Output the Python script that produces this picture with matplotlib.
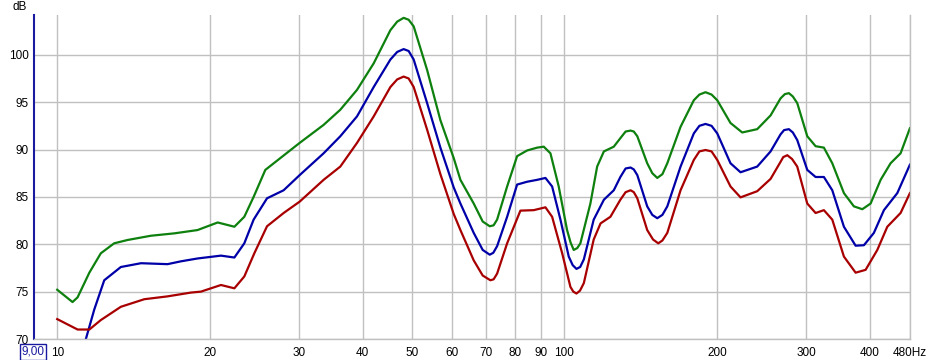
import matplotlib
matplotlib.use("Agg")
import matplotlib.pyplot as plt
from matplotlib.ticker import FixedLocator, NullLocator

plt.rcParams['font.family'] = ['Liberation Sans', 'DejaVu Sans']

freq_green = [10.0, 10.72, 10.97, 11.57, 12.19, 12.95, 13.76, 15.30, 17.01, 18.91, 20.72, 22.35, 23.38,
              24.39, 25.72, 27.54, 30.06, 33.51, 36.15, 39.00, 42.07, 45.38, 46.8, 48.19, 49.3, 50.44, 53.61, 56.94,
              60.49, 62.36, 66.24, 69.0, 71.24, 72.5, 73.66, 77.09, 80.66, 84.41, 88.34, 91.04, 93.84, 97.43, 101.2,
              102.8, 104.3, 106.0, 107.5, 112.5, 116.0, 119.6, 125.1, 128.9, 132.0, 135.0, 137.0, 139.2, 145.6,
              149.0, 152.4, 156.0, 159.5, 169.4,
              179.9, 184.5, 189.7, 195.0, 200.1, 212.5, 224.1, 239.9, 254.9, 266.7, 272.0, 277.0, 282.0, 287.7,
              301.1, 312.7, 324.7,
              337.3, 355.6, 372.1, 386.6, 401.4, 420.1, 439.5, 459.9, 479.8]
db_green = [75.2, 73.9, 74.4, 77.0, 79.05, 80.1, 80.45, 80.9, 81.15, 81.5, 82.3, 81.85, 82.9,
            85.0, 87.85, 89.1, 90.7, 92.6, 94.2, 96.3, 99.1, 102.6, 103.5, 103.9, 103.7, 103.0, 98.4, 93.1,
            89.1, 86.8, 84.3, 82.4, 81.9, 82.0, 82.6, 86.1, 89.3, 89.9, 90.2, 90.3, 89.6, 86.1, 81.5,
            80.2, 79.4, 79.6, 80.1, 84.3, 88.2, 89.8, 90.3, 91.2, 91.9, 92.0, 91.9, 91.4, 88.55,
            87.5, 87.0, 87.4, 88.55, 92.4,
            95.2, 95.8, 96.05, 95.8, 95.2, 92.8, 91.8, 92.15, 93.6, 95.4, 95.85, 95.95, 95.6, 94.9,
            91.4, 90.35, 90.2,
            88.55, 85.4, 84.0, 83.7, 84.3, 86.8, 88.55, 89.6, 92.25]

freq_blue = [10.0, 10.7, 11.39, 11.83, 12.38, 13.35, 14.63, 16.50, 17.54, 18.91, 21.03, 22.35, 23.38,
             24.39, 25.92, 27.95, 30.06, 33.51, 36.15, 39.00, 42.07, 45.38, 46.8, 48.19, 49.3, 50.44, 53.61, 56.94,
             60.49, 62.36, 66.24, 69.0, 71.24, 72.4, 73.66, 77.09, 80.66, 84.41, 88.34, 91.74, 94.56, 98.20, 101.97,
             103.8, 105.6, 107.4, 109.2, 114.2, 119.6, 125.1, 128.9, 132.0, 135.0, 137.0, 139.2, 145.6,
             149.0, 152.4, 156.0, 159.5, 169.4, 179.9,
             184.5, 189.7, 195.0, 200.1, 212.5, 222.4, 239.9, 254.9, 266.7, 271.0, 277.0, 282.0, 287.7,
             301.1, 312.7, 324.7, 337.3,
             355.6, 375.0, 389.4, 407.4, 426.4, 453.1, 479.8]
db_blue = [62.0, 66.0, 70.0, 73.1, 76.2, 77.6, 78.0, 77.9, 78.2, 78.5, 78.8, 78.6, 80.1,
           82.6, 84.85, 85.7, 87.3, 89.6, 91.4, 93.5, 96.6, 99.5, 100.3, 100.6, 100.4, 99.5, 94.9, 90.2,
           86.0, 84.3, 81.2, 79.4, 78.9, 79.1, 79.8, 82.9, 86.3, 86.6, 86.8, 87.0, 86.1, 82.6, 78.7,
           77.8, 77.4, 77.6, 78.4, 82.6, 84.7, 85.7, 87.1, 88.0, 88.1, 87.9, 87.3, 84.0,
           83.1, 82.75, 83.1, 84.0, 88.2, 91.7,
           92.5, 92.7, 92.5, 91.7, 88.55, 87.6, 88.2, 89.8, 91.6, 92.05, 92.15, 91.8, 91.0,
           87.85, 87.1, 87.1, 85.7,
           81.85, 79.85, 79.9, 81.2, 83.6, 85.4, 88.4]

freq_red = [10.0, 10.97, 11.57, 12.19, 13.35, 14.85, 16.50, 18.35, 19.20, 21.03, 22.35, 23.38, 24.47,
            25.92, 27.95, 30.06, 33.51, 36.15, 39.00, 42.07, 45.38, 46.8, 48.19, 49.3, 50.44, 53.61, 56.94, 60.49,
            62.36, 66.24, 69.0, 71.45, 72.5, 73.66, 77.09, 81.88, 86.97, 91.74, 94.56, 98.97, 102.75, 104.1,
            105.6, 107.3, 109.2,
            114.2, 117.8, 123.2, 128.9, 132.0, 135.0, 137.0, 139.2, 145.6, 149.5, 153.1, 156.0, 159.5, 169.4,
            179.9, 184.5, 189.7, 195.0, 200.1,
            212.5, 222.4, 239.9, 254.9, 266.7, 270.0, 275.0, 281.0, 287.7, 301.1, 312.7, 324.7, 337.3, 355.6,
            375.0, 392.4, 413.8, 433.0, 459.9, 479.8]
db_red = [72.1, 71.0, 71.0, 72.0, 73.4, 74.2, 74.5, 74.9, 75.0, 75.7, 75.35, 76.6, 79.05,
          81.9, 83.3, 84.5, 86.8, 88.2, 90.7, 93.5, 96.6, 97.4, 97.7, 97.5, 96.6, 92.1, 87.4, 83.2,
          81.5, 78.3, 76.7, 76.2, 76.3, 76.9, 80.1, 83.55, 83.6, 83.9, 82.9, 79.05, 75.5, 75.0,
          74.8, 75.1, 75.9,
          80.5, 82.2, 82.9, 84.7, 85.5, 85.7, 85.5, 84.85, 81.5, 80.5, 80.1, 80.4, 81.2, 85.7,
          88.9, 89.8, 89.95, 89.8, 88.9,
          86.1, 84.95, 85.6, 86.9, 88.7, 89.2, 89.4, 89.0, 88.2, 84.3, 83.3, 83.6, 82.6, 78.7,
          77.0, 77.3, 79.4, 81.85, 83.3, 85.4]

x_ticks = [10, 20, 30, 40, 50, 60, 70, 80, 90, 100, 200, 300, 400, 480]
x_tick_labels = ["10", "20", "30", "40", "50", "60", "70", "80", "90", "100", "200", "300", "400", "480Hz"]
y_ticks = [70, 75, 80, 85, 90, 95, 100]
y_tick_labels = ["70", "75", "80", "85", "90", "95", "100"]

W, H = 944, 360
fig = plt.figure(figsize=(W / 100, H / 100), dpi=100)
fig.patch.set_facecolor("white")
ax = fig.add_axes([34 / W, (H - 339) / H, (910 - 34) / W, (339 - 15) / H])
ax.set_xscale("log")
ax.set_xlim(9, 480)
ax.set_ylim(70, 104.2)

ax.xaxis.set_major_locator(FixedLocator(x_ticks))
ax.xaxis.set_minor_locator(NullLocator())
ax.set_xticks(x_ticks)
ax.set_xticklabels(x_tick_labels)
ax.set_yticks(y_ticks)
ax.set_yticklabels(y_tick_labels)
ax.tick_params(axis="both", length=0, labelsize=8.5, colors="black")
ax.tick_params(axis="x", pad=6)
ax.tick_params(axis="y", pad=4)

ax.grid(True, which="major", color="#c0c0c0", linewidth=1.0)
ax.set_axisbelow(True)

ax.spines["top"].set_visible(False)
ax.spines["right"].set_color("#c0c0c0")
ax.spines["bottom"].set_color("#c0c0c0")
ax.spines["right"].set_linewidth(1.0)
ax.spines["bottom"].set_linewidth(1.0)
ax.spines["left"].set_color("#1a1aa0")
ax.spines["left"].set_linewidth(1.5)

lw = 1.6
ax.plot(freq_green, db_green, color="#0e800e", linewidth=lw, solid_joinstyle="round")
ax.plot(freq_blue, db_blue, color="#0000a8", linewidth=lw, solid_joinstyle="round")
ax.plot(freq_red, db_red, color="#a80000", linewidth=lw, solid_joinstyle="round")

fig.text(20 / W, 1 - 7 / H, "dB", ha="center", va="center", fontsize=8.5)
fig.text(33 / W, 1 - 352 / H, "9,00", ha="center", va="center", fontsize=8.5, color="#1a1aa0",
         bbox=dict(boxstyle="square,pad=0.15", facecolor="white", edgecolor="#1a1aa0", linewidth=1))

fig.savefig("out.png", dpi=100, facecolor="white")
